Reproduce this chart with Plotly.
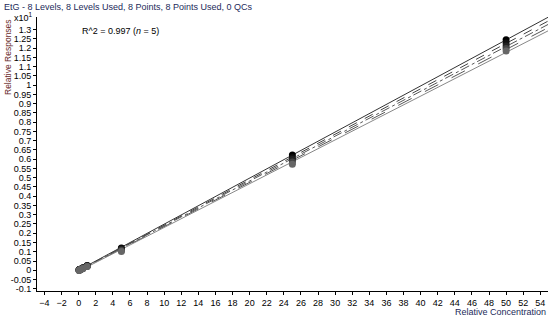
import numpy as np
import plotly.graph_objects as go

# Calibration levels (relative concentration)
levels = [0.05, 0.1, 0.25, 0.5, 1, 5, 25, 50]

# Relative responses (x10^1) for five calibration curves
series_a = [0.003, 0.004, 0.007, 0.013, 0.026, 0.120, 0.622, 1.245]
series_b = [0.002, 0.003, 0.006, 0.012, 0.024, 0.116, 0.608, 1.228]
series_c = [0.001, 0.002, 0.006, 0.011, 0.023, 0.112, 0.598, 1.212]
series_d = [0.000, 0.002, 0.005, 0.011, 0.022, 0.107, 0.585, 1.198]
series_e = [-0.001, 0.001, 0.004, 0.010, 0.021, 0.101, 0.572, 1.185]

all_series = [series_a, series_b, series_c, series_d, series_e]
marker_colors = ["#000000", "#111111", "#222222", "#444444", "#666666"]
line_dashes = ["solid", "dash", "dashdot", "longdash", "solid"]
line_colors = ["#333333", "#444444", "#555555", "#555555", "#888888"]

x_tick_vals = list(range(-4, 55, 2))
y_tick_vals = [round(-0.1 + 0.05 * i, 2) for i in range(29)]
y_tick_text = [("%g" % v) for v in y_tick_vals]

fig = go.Figure()

line_x = np.array([0.0, 55.0])
for ys, dash, lc in zip(all_series, line_dashes, line_colors):
    slope, intercept = np.polyfit(levels, ys, 1)
    fig.add_trace(go.Scatter(x=line_x, y=slope * line_x + intercept, mode="lines",
                             line=dict(color=lc, width=1, dash=dash),
                             hoverinfo="skip", showlegend=False))

for ys, mc in zip(all_series, marker_colors):
    fig.add_trace(go.Scatter(x=levels, y=ys, mode="markers",
                             marker=dict(color=mc, size=7, line=dict(width=0)),
                             showlegend=False))

fig.update_layout(
    width=550, height=316,
    margin=dict(l=37, r=2, t=17, b=25, autoexpand=False),
    paper_bgcolor="white", plot_bgcolor="white",
    font=dict(family="Liberation Sans, Arial, sans-serif", size=9, color="black"),
    showlegend=False,
)
fig.update_xaxes(range=[-4.87, 54.9], tickmode="array", tickvals=x_tick_vals,
                 showgrid=False, zeroline=False, showline=True, linecolor="black",
                 linewidth=1, ticks="outside", ticklen=3, tickcolor="black",
                 tickfont=dict(size=9), automargin=False)
fig.update_yaxes(range=[-0.112, 1.368], tickmode="array", tickvals=y_tick_vals,
                 ticktext=y_tick_text,
                 showgrid=False, zeroline=False, showline=True, linecolor="black",
                 linewidth=1, ticks="outside", ticklen=3, tickcolor="black",
                 tickfont=dict(size=9), automargin=False)

fig.add_annotation(text="EtG - 8 Levels, 8 Levels Used, 8 Points, 8 Points Used, 0 QCs",
                   xref="paper", yref="paper", x=-35/511, y=1 + 17/274, xanchor="left",
                   yanchor="top", showarrow=False, font=dict(size=9, color="#1c2a5a"))
fig.add_annotation(text="Relative Responses", xref="paper", yref="paper",
                   x=-36/511, y=1.0, xanchor="left", yanchor="top", textangle=-90,
                   showarrow=False, font=dict(size=8.5, color="#6a2a2a"))
fig.add_annotation(text="x10<sup>1</sup>", xref="paper", yref="paper",
                   x=-2/511, y=1.0, xanchor="right", yanchor="middle",
                   showarrow=False, font=dict(size=9, color="black"))
fig.add_annotation(text="R^2 = 0.997 (<i>n</i> = 5)", xref="paper", yref="paper",
                   x=43/511, y=1 - 14/274, xanchor="left", yanchor="middle",
                   showarrow=False, font=dict(size=9, color="black"))
fig.add_annotation(text="Relative Concentration", xref="paper", yref="paper",
                   x=1.0, y=-20.5/274, xanchor="right",
                   yanchor="middle", showarrow=False, font=dict(size=9, color="#1c2a5a"))

fig.write_html("out.html", config={"displayModeBar": False},
               post_script="document.body.style.margin='0';document.body.style.overflow='hidden';")
